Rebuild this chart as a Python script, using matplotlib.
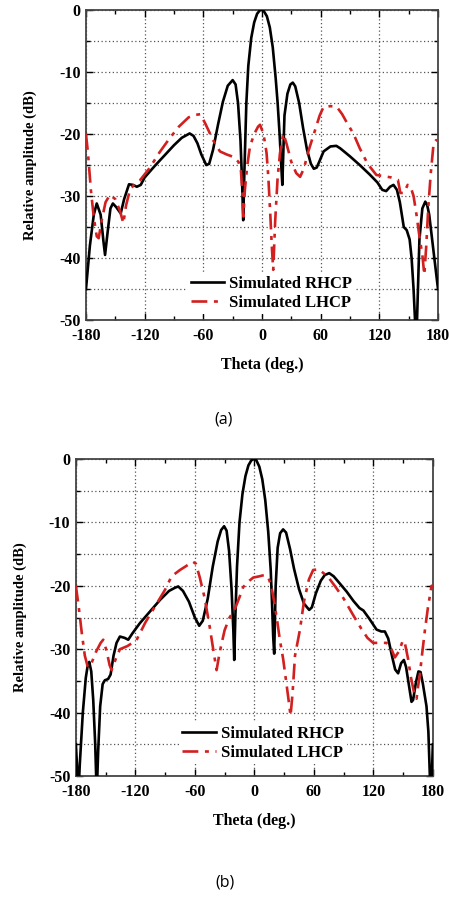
import matplotlib
matplotlib.use("Agg")
import matplotlib.pyplot as plt
from matplotlib.ticker import MultipleLocator

# (a) simulated patterns
theta_rhcp_a = [-180, -176, -172, -169, -165, -162, -160.5, -158, -155, -152.5, -149, -144.5, -141, -136, -132, -128, -124,
                -120, -110, -100, -90, -82, -74, -70, -66, -62, -57, -54, -50, -45, -40, -35, -30, -27, -24.5, -22,
                -20.3, -19.2, -18, -16, -14, -11, -8, -5, -2, 0, 2, 5, 8, 11, 14, 16, 18, 19.5, 20.8, 21.8, 23, 26,
                29, 31.5, 34, 38, 42, 46, 50, 53, 56, 59, 63, 70, 76, 80, 90, 100, 110, 118, 123, 127, 131, 134.5,
                138, 141, 145, 148, 151, 153, 155, 156.5, 158, 159.5, 161, 164, 167, 169, 171, 174, 177, 180]
rhcp_a = [-45, -38, -33, -31.2, -33, -37.5, -39.5, -36, -32, -31.2, -31.8, -32.8, -30.5, -28.1, -28.2, -28.5, -28.2,
          -27, -25.2, -23.5, -21.8, -20.6, -19.9, -20.3, -21.5, -23.3, -25, -24.8, -22.5, -18.5, -14.8, -12.2, -11.3,
          -12, -15, -21, -28, -33.9, -26, -15, -9, -4.5, -2, -0.6, 0, 0, -0.2, -1, -2.8, -6, -11, -15, -20, -24.5,
          -28.2, -23, -17, -13.5, -12, -11.7, -12.3, -15, -19, -22.5, -24.8, -25.6, -25.4, -24.3, -22.8, -22, -21.9,
          -22.3, -23.6, -25, -26.5, -27.8, -29, -29.2, -28.5, -28.2, -29, -31, -35, -35.5, -37, -40, -45, -50,
          -53, -45, -37, -32, -30.9, -31.5, -33, -37, -41, -45]

theta_lhcp_a = [-180, -178, -175, -172, -169, -167, -164, -160, -155.5, -150, -145, -141.8, -139, -135, -130, -125,
                -115, -105, -95, -85, -75, -68, -63, -58, -50, -43, -36, -29, -24, -21.5, -20, -19, -17.5, -15,
                -12.3, -8, -4, -2, 1.3, 3, 4.7, 6.5, 8.5, 10, 11.5, 13.5, 16, 18.4, 21.8, 25, 30, 35, 39, 43, 47,
                51, 55, 59, 63, 70, 76.4, 82, 88, 93.4, 100, 108, 117, 125, 132, 139, 141.5, 145, 149, 152, 155,
                158, 161, 164, 166, 168, 170, 172.5, 175.5, 178, 180]
lhcp_a = [-20, -23, -29, -33.5, -36.5, -36.8, -34, -31, -29.8, -30.5, -32.5, -34.4, -31.5, -29, -28, -27.5, -25.5,
          -23, -20.8, -18.8, -17.3, -16.9, -16.8, -18.3, -21, -22.8, -23.3, -23.7, -24.5, -26, -29.5, -33.3, -29,
          -25, -22, -20, -18.8, -18.5, -19.9, -21.3, -23.1, -27, -33, -38, -41.9, -34, -27, -23.1, -19.9, -21.5,
          -24.5, -26.3, -26.9, -25.5, -23, -21, -19, -17, -15.6, -15.5, -15.6, -16.8, -18.5, -19.9, -22.3, -24.8,
          -26.6, -26.8, -27, -27.4, -29.5, -29.5, -28.2, -28.5, -30, -33, -36.5, -39.5, -42.7, -38, -32, -26.5,
          -21.5, -21, -21]

# (b) simulated patterns
theta_rhcp_b = [-180, -179, -177.5, -176, -173, -170, -168, -166.5, -164.5, -162.5, -160.5, -159, -157.5, -155.5,
                -153, -150.8, -147.5, -145, -142, -139, -135.6, -131, -127.2, -123, -115.5, -105, -95, -86, -80,
                -76.8, -72, -66, -60, -55.6, -52, -47, -42, -37, -33.5, -30.5, -28, -25.5, -23, -21.2, -20.3, -19.2,
                -17.5, -15, -12, -9, -6, -3, -0.5, 2, 5, 8, 11, 14, 16.5, 18, 19, 20, 21.5, 23.5, 26, 29, 32, 36, 40,
                45, 50, 55.3, 58, 62, 67, 71, 75.5, 80, 86, 93, 100, 106, 110, 116, 123.2, 128, 131.6, 135, 139, 142,
                145, 148, 150.8, 153, 156, 158.5, 160.1, 163, 165.5, 167.6, 170, 173.6, 175.5, 177, 178, 179, 180]
rhcp_b = [-45, -48, -53, -48, -40, -34.5, -32.5, -32, -33.5, -38, -45, -53, -46, -39, -35.5, -34.9, -34.7, -34, -31,
          -29, -28, -28.2, -28.5, -27.5, -25.9, -24, -22.2, -20.8, -20.3, -20.1, -20.8, -22.5, -25, -26.3, -25.5,
          -22, -17, -13, -11.2, -10.6, -11.3, -14.5, -20.5, -27, -31.7, -25, -17, -10, -5.5, -2.7, -1, -0.2, 0,
          -0.2, -1.2, -3.2, -6.5, -11.5, -17.5, -23.5, -28, -30.7, -20, -14, -11.7, -11.1, -11.6, -14.2, -17.3,
          -20.5, -22.8, -23.8, -23.4, -21.2, -19.2, -18.3, -18, -18.5, -19.6, -20.9, -22.4, -23.5, -23.9, -25.2,
          -26.9, -27.2, -27.2, -28.3, -31.2, -33.2, -33.8, -32.2, -31.7, -32.8, -35.8, -38.3, -38, -35.2, -33.5,
          -33.6, -35.5, -39, -43, -50, -54, -50, -45]

theta_lhcp_b = [-180, -177, -174, -171, -168, -165, -160, -155, -152.4, -149, -146, -144, -141, -135.6, -128, -119,
                -110, -100, -90, -83.5, -75, -68, -62, -59, -55, -50, -45, -41, -38.1, -35, -30, -25, -20, -15,
                -11.3, -5, -1.2, 5, 10, 13.9, 17, 20, 23, 25.7, 29, 32, 35, 36.5, 38.5, 41, 45.9, 50, 55, 59.3, 65,
                74.4, 82, 90, 99.6, 108, 114, 119.8, 127, 133.3, 137, 141.7, 146, 149.8, 152, 155, 158, 161, 163.6,
                165, 166.9, 169, 172, 175, 178.7, 180]
lhcp_b = [-20, -23.5, -27.5, -31, -32.8, -32.5, -30.5, -29, -28.5, -30.3, -32.5, -33.3, -32, -30, -29.5, -28.6, -25.8,
          -23.2, -20.6, -18.5, -17.5, -16.8, -16.2, -16.5, -18.7, -22, -26.5, -30.5, -33.3, -30.5, -27, -25, -23.8,
          -21.8, -20.2, -19.2, -18.7, -18.5, -18.3, -18.6, -20, -22.5, -25.5, -28.5, -31.5, -35, -38.6, -40.5, -37,
          -31, -27, -22.5, -19, -17.5, -17.4, -18.6, -20.2, -22, -24.6, -26.8, -28.2, -29, -29, -29, -29.5, -31.3,
          -30.3, -28.6, -29.2, -31.5, -34.5, -36.8, -37.8, -36, -34, -31, -27, -23.5, -20, -20]

serif = "Liberation Serif"
plt.rcParams["font.family"] = serif
plt.rcParams["font.weight"] = "bold"
plt.rcParams["axes.unicode_minus"] = False


def draw_panel(ax, th_r, r, th_l, l, leg_xy):
    ax.plot(th_r, r, color="black", lw=1.9, label="Simulated RHCP", zorder=3)
    ax.plot(th_l, l, color="#d21f1f", lw=1.9, dashes=(6, 2.5, 1.5, 2.5), label="Simulated LHCP", zorder=3)
    ax.set_xlim(-180, 180)
    ax.set_ylim(-50, 0)
    ax.xaxis.set_major_locator(MultipleLocator(60))
    ax.xaxis.set_minor_locator(MultipleLocator(30))
    ax.yaxis.set_major_locator(MultipleLocator(10))
    ax.yaxis.set_minor_locator(MultipleLocator(5))
    ax.grid(True, which="major", axis="x", ls=(0, (1, 2)), color="#555555", lw=0.9)
    ax.grid(True, which="both", axis="y", ls=(0, (1, 2)), color="#555555", lw=0.9)
    ax.tick_params(which="both", direction="in", top=True, right=True, labelsize=11.5, width=1.0)
    ax.tick_params(which="major", length=5, pad=4)
    ax.tick_params(axis="x", which="major", pad=6)
    ax.tick_params(which="minor", length=3)
    for lab in ax.get_xticklabels() + ax.get_yticklabels():
        lab.set_fontweight("bold")
    for s in ax.spines.values():
        s.set_linewidth(1.3)
        s.set_color("#444444")
    ax.set_xlabel("Theta (deg.)", fontsize=11.5, fontweight="bold", labelpad=9)
    ax.set_ylabel("Relative amplitude (dB)", fontsize=10.5, fontweight="bold", labelpad=16)
    leg = ax.legend(loc="lower left", bbox_to_anchor=leg_xy, frameon=True, fancybox=False,
                    edgecolor="none", facecolor="white", framealpha=1, handlelength=2.0,
                    handletextpad=0.3, borderpad=0.2, labelspacing=0.2,
                    prop={"family": serif, "weight": "bold", "size": 12})
    leg.set_zorder(2)


fig = plt.figure(figsize=(4.49, 8.99), dpi=100)
ax1 = fig.add_axes([0.1915, 0.644, 0.784, 0.3448])
ax2 = fig.add_axes([0.169, 0.1368, 0.795, 0.3526])

draw_panel(ax1, theta_rhcp_a, rhcp_a, theta_lhcp_a, lhcp_a, (0.264, -0.008))
draw_panel(ax2, theta_rhcp_b, rhcp_b, theta_lhcp_b, lhcp_b, (0.266, 0.011))

fig.text(0.499, 0.533, "(a)", ha="center", va="center", fontsize=11.5, family="Open Sans", fontweight="normal")
fig.text(0.50, 0.018, "(b)", ha="center", va="center", fontsize=11.5, family="Open Sans", fontweight="normal")

fig.savefig("out.png", dpi=100)
